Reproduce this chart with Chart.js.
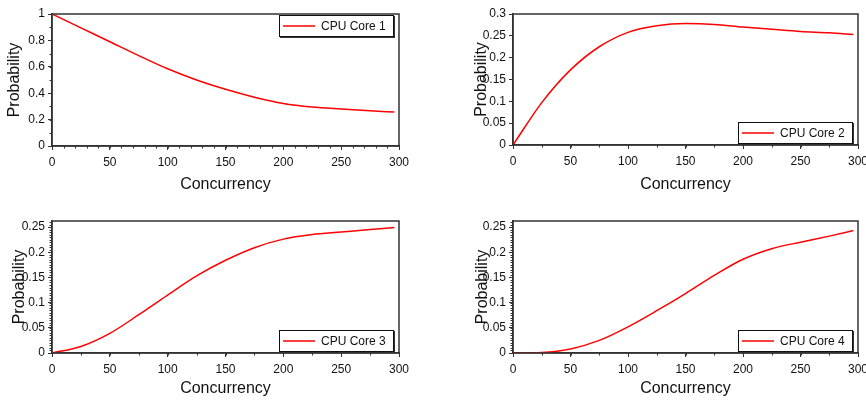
<!DOCTYPE html>
<html>
<head>
<meta charset="utf-8">
<script src="https://cdn.jsdelivr.net/npm/chart.js@4.4.1/dist/chart.umd.min.js"></script>
<style>
  body { margin: 0; width: 866px; height: 400px; overflow: hidden; background: #fff; position: relative; }
  canvas { position: absolute; }
</style>
</head>
<body>
<canvas id="core1" width="440" height="200" style="left:0;top:0"></canvas>
<canvas id="core2" width="440" height="200" style="left:440px;top:0"></canvas>
<canvas id="core3" width="440" height="200" style="left:0;top:200px"></canvas>
<canvas id="core4" width="440" height="200" style="left:440px;top:200px"></canvas>
<script>
const concurrency = [0, 25, 50, 75, 100, 125, 150, 175, 200, 225, 250, 275, 296];
const core1 = [1.0, 0.895, 0.79, 0.685, 0.585, 0.5, 0.43, 0.37, 0.322, 0.295, 0.28, 0.267, 0.257];
const core2 = [0.0, 0.097, 0.172, 0.225, 0.258, 0.273, 0.278, 0.276, 0.27, 0.265, 0.26, 0.257, 0.253];
const core3 = [0.0, 0.013, 0.039, 0.076, 0.115, 0.153, 0.184, 0.209, 0.226, 0.235, 0.24, 0.245, 0.249];
const core4 = [0.0, 0.001, 0.008, 0.025, 0.052, 0.084, 0.118, 0.154, 0.186, 0.207, 0.22, 0.232, 0.243];
const seriesNames = ["CPU Core 1", "CPU Core 2", "CPU Core 3", "CPU Core 4"];

const xMax = 300, xStep = 50;
const yMax = [1, 0.3, 0.262, 0.262];
const yStep = [0.2, 0.05, 0.05, 0.05];
const yMinor = [0.1, 0, 0.005, 0.005];
const xMinor = [10, 25, 25, 25];

const FONT = '"Liberation Sans", Arial, sans-serif';
const INK = "#333";

// plot boxes inside each 440x200 canvas: left, top, right, bottom
const areas = [
  [52, 14, 399, 146],
  [73, 14, 418, 145],
  [52, 21, 399, 153],
  [73, 21, 418, 153],
];
const yTitlePad = [5, 32, 10, 33];
const xTitlePad = [6, 6, 1.5, 1.5];
const legendAt = ["top", "bottom", "bottom", "bottom"];

// frame, minor ticks and boxed legend
const framePlugin = {
  id: "frame",
  afterDraw(chart, args, opts) {
    const { ctx, chartArea: a, scales: { x, y } } = chart;
    ctx.save();
    ctx.strokeStyle = INK;
    ctx.lineWidth = 1;
    ctx.beginPath();
    let n = Math.round((x.max - x.min) / opts.xMinor);
    for (let i = 0; i <= n; i++) {
      const px = Math.round(x.getPixelForValue(x.min + i * opts.xMinor)) + 0.5;
      ctx.moveTo(px, a.bottom);
      ctx.lineTo(px, a.bottom + 2.5);
    }
    if (opts.yMinor) {
      n = Math.floor((y.max - y.min) / opts.yMinor + 1e-6);
      for (let i = 0; i <= n; i++) {
        const py = Math.round(y.getPixelForValue(y.min + i * opts.yMinor)) + 0.5;
        ctx.moveTo(a.left, py);
        ctx.lineTo(a.left - 2.5, py);
      }
    }
    ctx.stroke();

    ctx.lineWidth = 1.5;
    ctx.strokeRect(a.left, a.top, a.right - a.left, a.bottom - a.top);

    const ds = chart.data.datasets[0];
    ctx.font = "12px " + FONT;
    const w = Math.round(42 + ctx.measureText(ds.label).width + 8);
    const h = 22;
    const bx = Math.round(a.right - 5 - w);
    const by = opts.legendAt === "top" ? Math.round(a.top + 1) : Math.round(a.bottom - 1 - h);
    ctx.fillStyle = "#333";
    ctx.fillRect(bx + 1, by + 1, w, h);
    ctx.fillStyle = "#fff";
    ctx.fillRect(bx, by, w, h);
    ctx.strokeStyle = "#111";
    ctx.lineWidth = 1;
    ctx.strokeRect(bx + 0.5, by + 0.5, w - 1, h - 1);
    ctx.strokeStyle = ds.borderColor;
    ctx.lineWidth = 1.5;
    ctx.beginPath();
    ctx.moveTo(bx + 4, by + h / 2);
    ctx.lineTo(bx + 36, by + h / 2);
    ctx.stroke();
    ctx.fillStyle = "#111";
    ctx.textBaseline = "middle";
    ctx.fillText(ds.label, bx + 42, by + h / 2 + 0.5);
    ctx.restore();
  },
};

const fmt = (v) => String(Number(v.toFixed(3)));

function makeChart(id, idx, values) {
  const [l, t, r, b] = areas[idx];
  const ctx = document.getElementById(id).getContext("2d");
  return new Chart(ctx, {
    type: "line",
    data: {
      datasets: [
        {
          label: seriesNames[idx],
          data: concurrency.map((c, i) => ({ x: c, y: values[i] })),
          borderColor: "#ff0000",
          borderWidth: 1.5,
          pointRadius: 0,
          cubicInterpolationMode: "monotone",
          fill: false,
        },
      ],
    },
    options: {
      responsive: false,
      animation: false,
      layout: { padding: { left: 0, top: t, right: 440 - r, bottom: 0 } },
      plugins: {
        legend: { display: false },
        tooltip: { enabled: false },
        frame: { xMinor: xMinor[idx], yMinor: yMinor[idx], legendAt: legendAt[idx] },
      },
      scales: {
        x: {
          type: "linear",
          min: 0,
          max: xMax,
          afterFit: (s) => { s.height = 200 - b; },
          ticks: { stepSize: xStep, autoSkip: false, maxRotation: 0, padding: 5, color: "#111", font: { family: FONT, size: 12 } },
          grid: { drawOnChartArea: false, tickLength: 4, tickColor: INK, tickWidth: 1 },
          border: { color: INK, width: 1.5 },
          title: { display: true, text: "Concurrency", color: "#111", font: { family: FONT, size: 16 }, padding: { top: 0, bottom: xTitlePad[idx] } },
        },
        y: {
          min: 0,
          max: yMax[idx],
          afterFit: (s) => { s.width = l; },
          ticks: { stepSize: yStep[idx], includeBounds: false, autoSkip: false, padding: 3, color: "#111", font: { family: FONT, size: 12 }, callback: fmt },
          grid: { drawOnChartArea: false, tickLength: 4, tickColor: INK, tickWidth: 1 },
          border: { color: INK, width: 1.5 },
          title: { display: true, text: "Probability", color: "#111", font: { family: FONT, size: 16 }, padding: { top: yTitlePad[idx], bottom: 0 } },
        },
      },
    },
    plugins: [framePlugin],
  });
}

makeChart("core1", 0, core1);
makeChart("core2", 1, core2);
makeChart("core3", 2, core3);
makeChart("core4", 3, core4);
</script>
</body>
</html>
